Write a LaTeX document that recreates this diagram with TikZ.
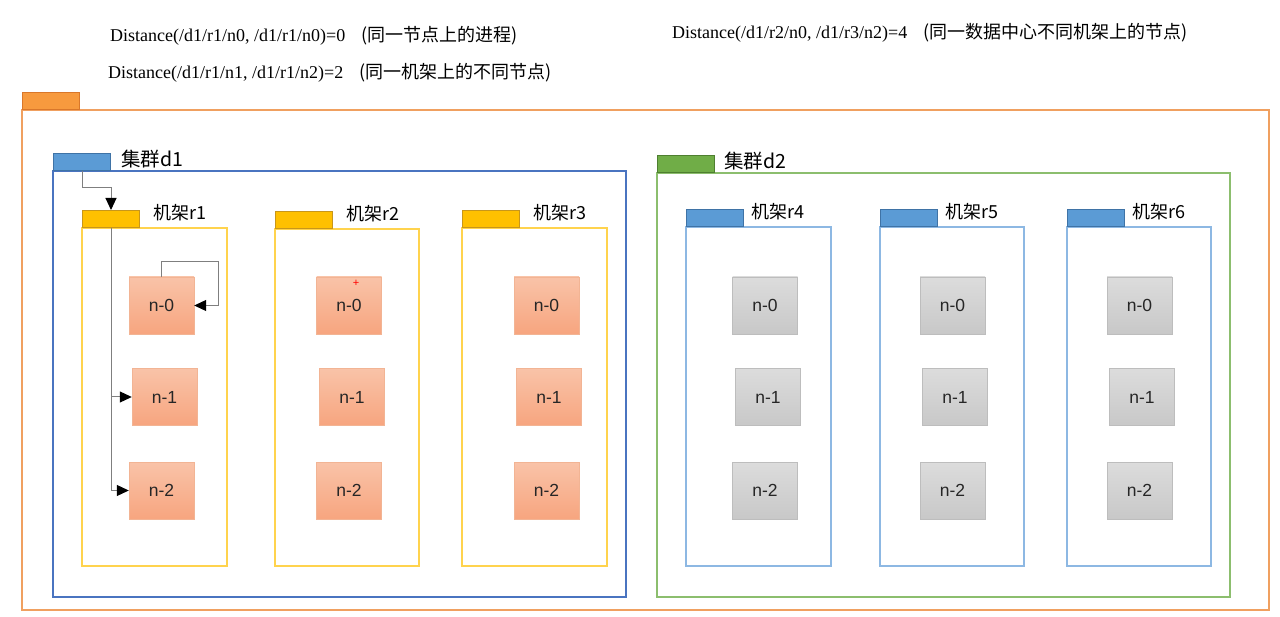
\documentclass[tikz,border=0pt]{standalone}
\usepackage{fontspec}
\setmainfont{Liberation Serif}
\setsansfont{Liberation Sans}
\newfontfamily\cjk{Noto Sans CJK SC}
\usetikzlibrary{arrows.meta,positioning}
\definecolor{outerline}{HTML}{F0A060}
\definecolor{outerfill}{HTML}{F79A3E}
\definecolor{outerdraw}{HTML}{D9772A}
\definecolor{dcblue}{HTML}{4A74C0}
\definecolor{tabblue}{HTML}{5B9BD5}
\definecolor{tabbluedraw}{HTML}{3F73A6}
\definecolor{rackblue}{HTML}{8DB8E3}
\definecolor{dcgreen}{HTML}{8CBE6E}
\definecolor{tabgreen}{HTML}{70AD47}
\definecolor{tabgreendraw}{HTML}{4E7F30}
\definecolor{rackyellow}{HTML}{FFD34D}
\definecolor{tabyellow}{HTML}{FFC000}
\definecolor{tabyellowdraw}{HTML}{C8961A}
\definecolor{nodetop}{HTML}{F9C3A8}
\definecolor{nodebot}{HTML}{F7A57F}
\definecolor{nodeline}{HTML}{F2B494}
\definecolor{greytop}{HTML}{DCDCDC}
\definecolor{greybot}{HTML}{C8C8C8}
\definecolor{greyline}{HTML}{BDBDBD}
\definecolor{linkgrey}{HTML}{7F7F7F}
\definecolor{hosttext}{HTML}{262626}

\begin{document}
\begin{tikzpicture}[x=1pt,y=-1pt,
  tab/.style={draw,line width=1pt,minimum width=57pt,minimum height=17pt,inner sep=0pt,anchor=south west},
  lbl/.style={font=\cjk\fontsize{18}{21}\selectfont,inner sep=0pt},
  hnode/.style={draw=nodeline,top color=nodetop,bottom color=nodebot,minimum width=65pt,minimum height=57pt,inner sep=0pt,text=hosttext,font=\sffamily\fontsize{17.5}{20}\selectfont},
  gnode/.style={draw=greyline,top color=greytop,bottom color=greybot,minimum width=65pt,minimum height=57pt,inner sep=0pt,text=hosttext,font=\sffamily\fontsize{17.5}{20}\selectfont},
  link/.style={linkgrey,line width=1pt,-{Triangle[length=12pt,width=11pt,color=black,fill=black]}},
  note/.style={anchor=west,inner sep=0pt,font=\fontsize{18}{21}\selectfont}]
  \useasboundingbox (0,0) rectangle (1280,617);
  % distances
  \node[note] (dist0) at (110,36) {Distance(/d1/r1/n0, /d1/r1/n0)=0\hspace{0.9em}{\cjk (同一节点上的进程)}};
  \node[note] (dist2) at (108,73) {Distance(/d1/r1/n1, /d1/r1/n2)=2\hspace{0.9em}{\cjk (同一机架上的不同节点)}};
  \node[note] (dist4) at (672,33) {Distance(/d1/r2/n0, /d1/r3/n2)=4\hspace{0.9em}{\cjk (同一数据中心不同机架上的节点)}};
  % outer frame
  \draw[outerline,line width=1.5pt] (22,110) rectangle (1269,610);
  \node[tab,fill=outerfill,draw=outerdraw] (outertab) at (22,110) {};
  % data centre d1
  \draw[dcblue,line width=1.3pt] (53,171) rectangle (626,597);
  \node[tab,fill=tabblue,draw=tabbluedraw] (d1tab) at (53,171) {};
  \node[lbl,font=\cjk\fontsize{19.5}{22}\selectfont,right=10pt of d1tab,yshift=3pt] (d1lbl) {集群d1};
  % data centre d2
  \draw[dcgreen,line width=1.3pt] (657,173) rectangle (1230,597);
  \node[tab,fill=tabgreen,draw=tabgreendraw] (d2tab) at (657,173) {};
  \node[lbl,font=\cjk\fontsize{19.5}{22}\selectfont,right=9pt of d2tab,yshift=3pt] (d2lbl) {集群d2};
  % racks in d1
  \draw[rackyellow,line width=1.5pt] (82,228) rectangle (227,566);
  \node[tab,fill=tabyellow,draw=tabyellowdraw] (r1tab) at (82,228) {};
  \node[lbl,right=13pt of r1tab,yshift=6pt] (r1lbl) {机架r1};
  \draw[rackyellow,line width=1.5pt] (275,229) rectangle (419,566);
  \node[tab,fill=tabyellow,draw=tabyellowdraw] (r2tab) at (275,229) {};
  \node[lbl,right=13pt of r2tab,yshift=6pt] (r2lbl) {机架r2};
  \draw[rackyellow,line width=1.5pt] (462,228) rectangle (607,566);
  \node[tab,fill=tabyellow,draw=tabyellowdraw] (r3tab) at (462,228) {};
  \node[lbl,right=13pt of r3tab,yshift=6pt] (r3lbl) {机架r3};
  % racks in d2
  \draw[rackblue,line width=1.5pt] (686,227) rectangle (831,566);
  \node[tab,fill=tabblue,draw=tabbluedraw] (r4tab) at (686,227) {};
  \node[lbl,right=7pt of r4tab,yshift=6pt] (r4lbl) {机架r4};
  \draw[rackblue,line width=1.5pt] (880,227) rectangle (1024,566);
  \node[tab,fill=tabblue,draw=tabbluedraw] (r5tab) at (880,227) {};
  \node[lbl,right=7pt of r5tab,yshift=6pt] (r5lbl) {机架r5};
  \draw[rackblue,line width=1.5pt] (1067,227) rectangle (1211,566);
  \node[tab,fill=tabblue,draw=tabbluedraw] (r6tab) at (1067,227) {};
  \node[lbl,right=7pt of r6tab,yshift=6pt] (r6lbl) {机架r6};
  % hosts
  \node[hnode] (r1n0) at (161.5,305.5) {n-0};
  \node[hnode] (r1n1) at (164.5,397) {n-1};
  \node[hnode] (r1n2) at (161.5,490.5) {n-2};
  \node[hnode] (r2n0) at (349,305.5) {n-0};
  \node[hnode] (r2n1) at (352,397) {n-1};
  \node[hnode] (r2n2) at (349,490.5) {n-2};
  \node[hnode] (r3n0) at (546.5,305.5) {n-0};
  \node[hnode] (r3n1) at (549,397) {n-1};
  \node[hnode] (r3n2) at (546.5,490.5) {n-2};
  \node[gnode] (r4n0) at (765,305.5) {n-0};
  \node[gnode] (r4n1) at (768,397) {n-1};
  \node[gnode] (r4n2) at (765,490.5) {n-2};
  \node[gnode] (r5n0) at (952.5,305.5) {n-0};
  \node[gnode] (r5n1) at (955,397) {n-1};
  \node[gnode] (r5n2) at (952.5,490.5) {n-2};
  \node[gnode] (r6n0) at (1139.5,305.5) {n-0};
  \node[gnode] (r6n1) at (1142,397) {n-1};
  \node[gnode] (r6n2) at (1139.5,490.5) {n-2};
  \node[text=red,inner sep=0pt,font=\sffamily\fontsize{11}{11}\selectfont] (mark) at (356,283) {+};
  % paths
  \draw[link] (d1tab.south) -- ++(0,17) -| (r1tab.north);
  \draw[link] (r1n0.north) -- ++(0,-15) -| ([xshift=24pt]r1n0.east) -- (r1n0.east);
  \draw[link] (r1tab.south) |- (r1n2.west);
  \draw[link] (r1tab.south |- r1n1.west) -- (r1n1.west);
\end{tikzpicture}
\end{document}
